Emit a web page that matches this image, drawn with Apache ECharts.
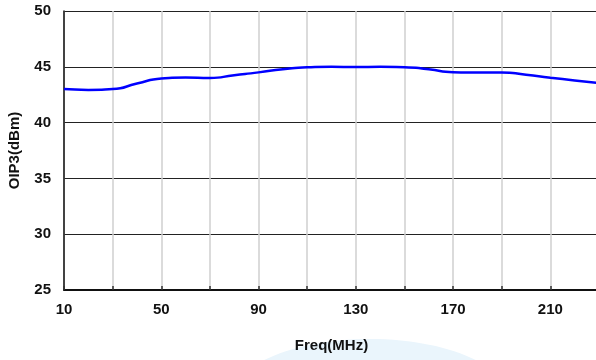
<!DOCTYPE html>
<html>
<head>
<meta charset="utf-8">
<script src="https://cdn.jsdelivr.net/npm/echarts@6/dist/echarts.min.js"></script>
<style>
  html, body { margin: 0; padding: 0; background: #ffffff; }
  #chart { width: 596px; height: 360px; }
</style>
</head>
<body>
<div id="chart"></div>
<script>
// Frequency points (MHz), one every 10 MHz
const freqs = [10, 20, 30, 40, 50, 60, 70, 80, 90, 100, 110, 120,
               130, 140, 150, 160, 170, 180, 190, 200, 210, 220, 230];

// OIP3 values (dBm)
const oip3 = [43.0, 42.93, 43.0, 43.5, 43.95, 44.05, 44.0, 44.25, 44.5, 44.78, 44.96, 45.0,
              44.98, 45.0, 44.97, 44.78, 44.52, 44.48, 44.5, 44.28, 44.02, 43.78, 43.53];

const LABEL_FONT = 'Liberation Sans, Arial, sans-serif';

const chartDom = document.getElementById('chart');
const myChart = echarts.init(chartDom, null, { renderer: 'canvas' });

const option = {
    backgroundColor: '#ffffff',
    animation: false,
    // faint blue swoosh behind the axis name
    graphic: [
        {
            type: 'ellipse',
            z: -10,
            shape: { cx: 370, cy: 400, rx: 140, ry: 61 },
            style: { fill: '#eaf5fc' }
        }
    ],
    grid: {
        left: 64,
        top: 11,
        width: 535,
        height: 279,
        containLabel: false,
        outerBoundsMode: 'none'
    },
    xAxis: {
        type: 'category',
        data: freqs,
        boundaryGap: false,
        name: 'Freq(MHz)',
        nameLocation: 'middle',
        nameGap: 48,
        nameTextStyle: {
            fontFamily: LABEL_FONT,
            fontWeight: 'bold',
            fontSize: 15,
            color: '#111'
        },
        axisLine: {
            lineStyle: { color: '#111', width: 2 }
        },
        axisTick: {
            show: true,
            inside: true,
            length: 4,
            interval: 1,
            lineStyle: { color: '#333', width: 1.5 }
        },
        axisLabel: {
            interval: 3,
            margin: 12,
            fontFamily: LABEL_FONT,
            fontWeight: 'bold',
            fontSize: 15,
            color: '#111'
        },
        splitLine: {
            show: true,
            interval: 1,
            lineStyle: { color: '#cfcfcf', width: 1.5 }
        }
    },
    yAxis: {
        type: 'value',
        min: 25,
        max: 50,
        interval: 5,
        name: 'OIP3(dBm)',
        nameLocation: 'middle',
        nameGap: 42,
        nameTextStyle: {
            fontFamily: LABEL_FONT,
            fontWeight: 'bold',
            fontSize: 15,
            color: '#111'
        },
        axisLine: {
            show: true,
            lineStyle: { color: '#111', width: 1.5 }
        },
        axisTick: { show: false },
        axisLabel: {
            margin: 13,
            fontFamily: LABEL_FONT,
            fontWeight: 'bold',
            fontSize: 15,
            color: '#111'
        },
        splitLine: {
            show: true,
            lineStyle: { color: '#222', width: 1.2 }
        }
    },
    series: [
        {
            name: 'OIP3',
            type: 'line',
            data: oip3,
            smooth: 0.6,
            showSymbol: false,
            lineStyle: { color: '#0000ff', width: 2.5 }
        }
    ]
};

myChart.setOption(option);

window.addEventListener('resize', function() {
    myChart.resize();
});
</script>
</body>
</html>
